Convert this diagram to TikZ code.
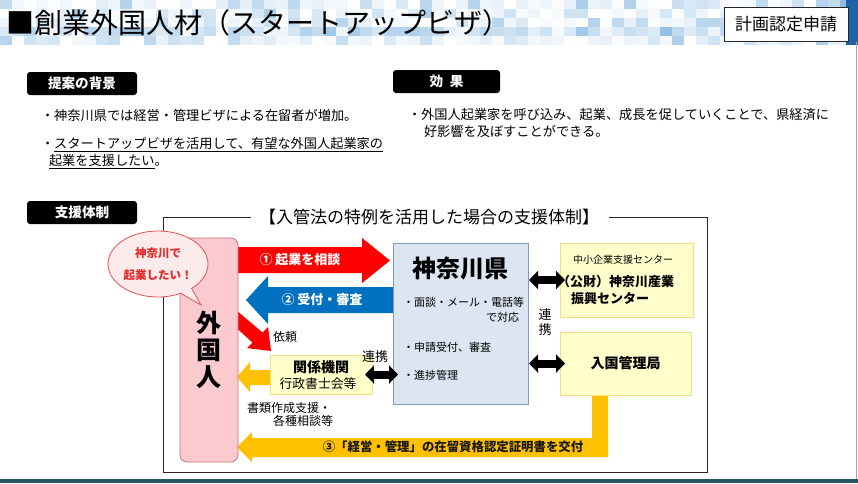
\documentclass[tikz,border=0pt]{standalone}
\usepackage{fontspec}
\setmainfont{Noto Sans CJK JP}
\usetikzlibrary{arrows.meta,shapes.callouts,calc}
\definecolor{hdr}{RGB}{60,140,205}
\definecolor{hdrdark}{RGB}{20,80,150}
\definecolor{kred}{RGB}{255,0,0}
\definecolor{kblue}{RGB}{0,112,192}
\definecolor{korange}{RGB}{255,192,0}
\definecolor{pinkf}{RGB}{250,202,206}
\definecolor{pinkd}{RGB}{200,115,125}
\definecolor{bubf}{RGB}{253,234,234}
\definecolor{bubd}{RGB}{225,85,85}
\definecolor{bubt}{RGB}{230,40,40}
\definecolor{kenf}{RGB}{220,230,242}
\definecolor{kend}{RGB}{128,155,190}
\definecolor{yelf}{RGB}{255,255,204}
\definecolor{yeld}{RGB}{244,222,125}
\definecolor{tealstrip}{RGB}{40,88,100}
\newcommand\fsz[2]{\fontsize{#1}{#2}\selectfont}
\begin{document}
\begin{tikzpicture}[x=1pt,y=-1pt,
  every node/.style={inner sep=0pt,outer sep=0pt},
  lbl/.style={fill=black,rounded corners=3pt,text=white,font=\fsz{13.6}{16}\bfseries,minimum width=110pt,minimum height=23pt},
  body/.style={anchor=west,font=\fsz{13.2}{16}},
  small/.style={font=\fsz{11}{14}},
  dbl/.style={line width=8pt,{Triangle[width=18pt,length=9pt]}-{Triangle[width=18pt,length=9pt]}},
  boxpink/.style={draw=pinkd,fill=pinkf,line width=0.8pt,rounded corners=7pt},
  boxken/.style={draw=kend,fill=kenf,line width=0.8pt},
  boxyel/.style={draw=yeld,fill=yelf,line width=0.8pt}
]
\useasboundingbox (0,0) rectangle (858,483);
\fill[white] (0,0) rectangle (858,483);
% header mosaic
\pgfmathsetseed{11}
\foreach \i in {0,...,71}{
  \foreach \j in {0,...,4}{
    \pgfmathsetmacro\p{int(min(90,rnd*rnd*50 + (\j==3)*rnd*30 + (\i>67)*rnd*60))}
    \fill[hdr!\p!white] (\i*12,\j*9) rectangle ++(12.2,9.2);
  }
}
\fill[hdrdark!70!hdr] (846,0) rectangle (858,45);
% right border & bottom strip
\draw[gray!70,line width=1.5pt] (856.5,42) -- (856.5,483);
\fill[tealstrip] (0,479) rectangle (858,483);
% title
\node[anchor=west,font=\fsz{28}{30}] (title) at (6,23) {■創業外国人材（スタートアップビザ）};
\node[draw=black!85,fill=white,line width=0.8pt,minimum width=124pt,minimum height=34pt,font=\fsz{17}{20}] (keikaku) at (786,24) {計画認定申請};
% section labels
\node[lbl] (haikei) at (82,83.5) {提案の背景};
\node[lbl,minimum width=107pt] (kouka) at (446.5,81.5) {効\hspace{0.5em}果};
\node[lbl] (shien) at (82,212.5) {支援体制};
% bullets
\node[body] (b1) at (41,115) {・神奈川県では経営・管理ビザによる在留者が増加。};
\node[body] (b2) at (41,145) {・\underline{スタートアップビザを活用して、有望な外国人起業家の}};
\node[body] (b3) at (49,162) {\underline{起業を支援したい}。};
\node[body] (e1) at (408,115) {・外国人起業家を呼び込み、起業、成長を促していくことで、県経済に};
\node[body] (e2) at (424,131) {好影響を及ぼすことができる。};
% frame
\node[font=\fsz{17}{20}] (ftitle) at (429,217) {【入管法の特例を活用した場合の支援体制】};
\draw[line width=0.8pt,black!85] (251,217) -- (163,217) -- (163,472) -- (707,472) -- (707,217) -- (609,217);
% block arrows (drawn below boxes)
\fill[korange] (592,393) -- (608,393) -- (608,457) -- (252,457) -- (252,462) -- (237,447) -- (252,432) -- (252,438) -- (592,438) -- cycle;
\fill[kblue] (395,287) -- (268,287) -- (268,276) -- (246,300) -- (268,324) -- (268,313) -- (395,313) -- cycle;
\fill[kred] (236,247) -- (362,247) -- (362,238) -- (390,260.5) -- (362,283) -- (362,273) -- (236,273) -- cycle;
\fill[kred] (229,304) -- (262.5,332.5) -- (268.1,326.9) -- (271,351) -- (246.9,348.1) -- (252.5,342.5) -- (221,314) -- cycle;
\fill[korange] (272,370) -- (250,370) -- (250,362) -- (237,377) -- (250,392) -- (250,385) -- (272,385) -- cycle;
% boxes
\node[boxpink,minimum width=58pt,minimum height=224pt,align=center,font=\fsz{25}{27}\bfseries] (gai) at (209,350) {外\\国\\人};
\node[boxken,minimum width=135pt,minimum height=161pt] (ken) at (460.5,323.5) {};
\node[boxyel,minimum width=133pt,minimum height=74pt] (sangyo) at (626.5,280) {};
\node[boxyel,minimum width=131pt,minimum height=63pt,font=\fsz{14}{16}\bfseries] (imm) at (625.5,363.5) {入国管理局};
\node[boxyel,minimum width=102pt,minimum height=39pt] (kan) at (321,374.5) {};
% speech bubble
\node[ellipse callout,draw=bubd,fill=bubf,line width=0.8pt,minimum width=100pt,minimum height=66pt,
  callout absolute pointer={(201,305)},align=center,font=\fsz{11.5}{22}\bfseries,text=bubt] (bub) at (158,264) {神奈川で\\起業したい！};
% arrow labels
\node[text=white,font=\fsz{13}{16}\bfseries] (l1) at (300,260) {① 起業を相談};
\node[text=white,font=\fsz{13}{16}\bfseries] (l2) at (322,300) {② 受付・審査};
\node[font=\fsz{12.4}{15}\bfseries,text=black!90] (l3) at (453,447) {③「経営・管理」の在留資格認定証明書を交付};
\node[font=\fsz{12}{14}] (irai) at (285,337) {依頼};
\node[font=\fsz{12}{14},anchor=west] (shorui1) at (247,408) {書類作成支援・};
\node[font=\fsz{12}{14},anchor=west] (shorui2) at (273,421) {各種相談等};
% ken texts
\node[font=\fsz{24}{28}\bfseries] (kent) at (460.5,268) {神奈川県};
\node[small,anchor=west] (k1) at (403,302) {・面談・メール・電話等};
\node[small,anchor=east] (k2) at (519,317) {で対応};
\node[small,anchor=west] (k3) at (403,347) {・申請受付、審査};
\node[small,anchor=west] (k4) at (403,375) {・進捗管理};
% sangyo texts
\node[font=\fsz{10}{12}] (s1) at (623,260) {中小企業支援センター};
\node[font=\fsz{13}{16}\bfseries,anchor=west] (s2) at (557,282) {（公財）神奈川産業};
\node[font=\fsz{13}{16}\bfseries,anchor=west] (s3) at (571,299) {振興センター};
% kan texts
\node[font=\fsz{14}{16}\bfseries] (kan1) at (321,367) {関係機関};
\node[font=\fsz{12.8}{15}] (kan2) at (318,384) {行政書士会等};
% double arrows
\draw[dbl,shorten >=-5pt,shorten <=1pt] (ken.east |- sangyo.west) -- (sangyo.west);
\draw[dbl,shorten >=-5pt,shorten <=1pt] (ken.east |- imm.west) -- (imm.west);
\draw[dbl,shorten <=-7pt,shorten >=-5pt] (kan.east) -- (ken.west |- kan.east);
% renkei labels
\node[font=\fsz{13}{15}] (ren1) at (375,357) {連携};
\node[font=\fsz{13}{15},align=center] (ren2) at (545,322) {連\\携};
\end{tikzpicture}
\end{document}
